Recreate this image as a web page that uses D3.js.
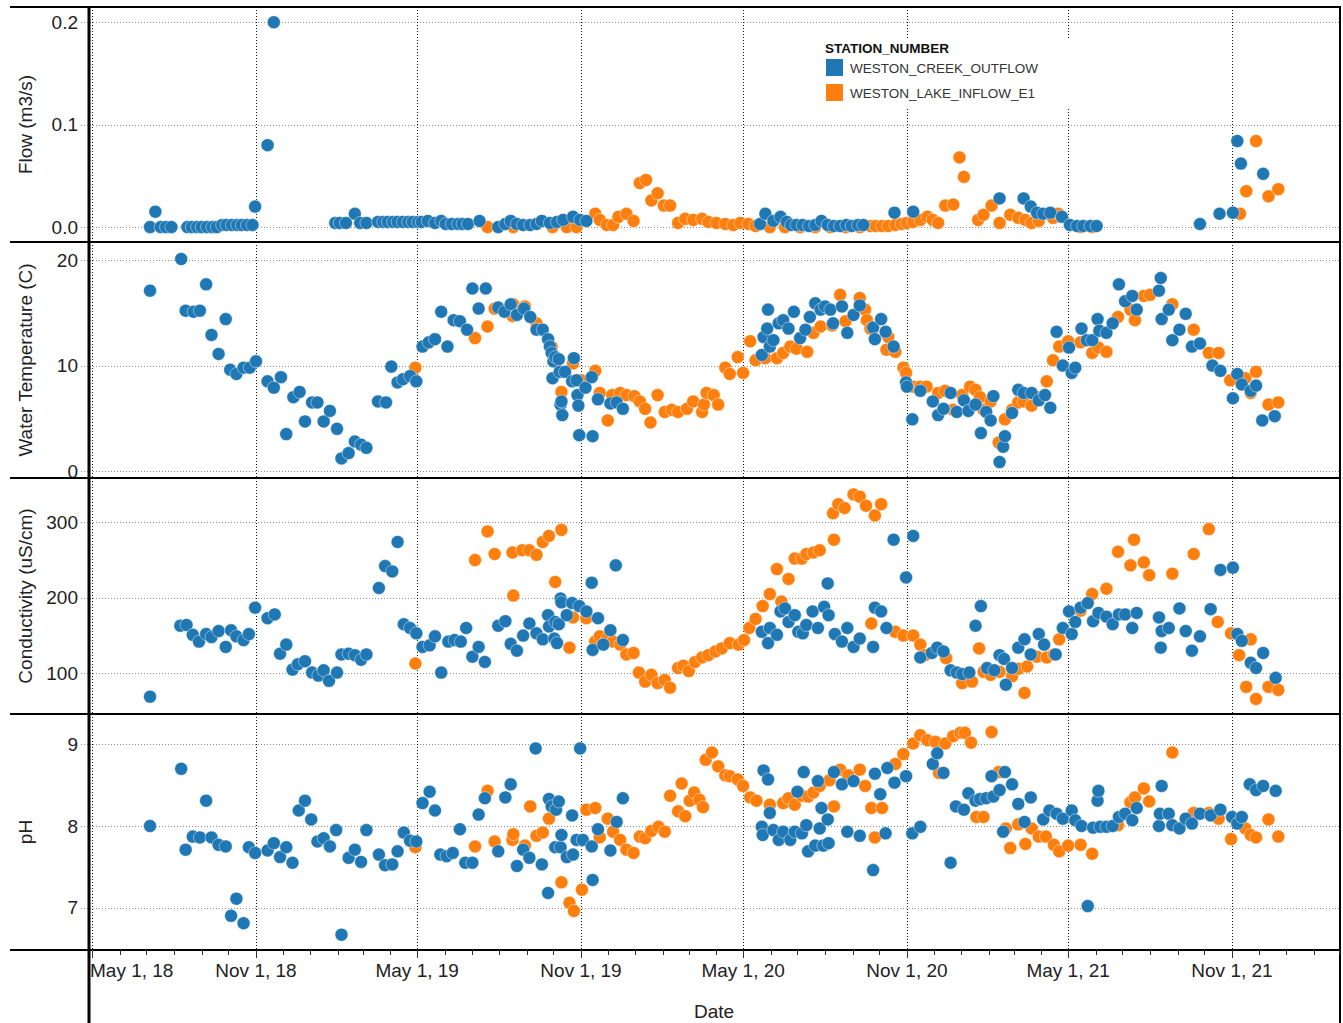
<!DOCTYPE html>
<html>
<head>
<meta charset="utf-8">
<script src="https://cdn.jsdelivr.net/npm/d3@7"></script>
<style>
  body { margin: 0; background: #fff; }
  svg text { font-family: "Liberation Sans", Arial, sans-serif; }
</style>
</head>
<body>
<svg id="chart" width="1343" height="1023"></svg>
<script>
// Stations and their colours
const stations = ["WESTON_CREEK_OUTFLOW", "WESTON_LAKE_INFLOW_E1"];
const stationColors = ["#1f77b4", "#ff7f0e"];
const legendTitle = "STATION_NUMBER";

// Axis ticks
const flowTicks = [0, 0.1, 0.2];
const tempTicks = [0, 10, 20];
const condTicks = [100, 200, 300];
const phTicks = [7, 8, 9];

// Flow (m3/s)
const flowCreek = [
  ["2018-07-05",0.000],["2018-07-11",0.015],["2018-07-17",0.000],["2018-07-23",0.000],["2018-07-29",0.000],
  ["2018-08-16",0.000],["2018-08-21",0.000],["2018-08-27",0.000],["2018-09-01",0.000],["2018-09-07",0.000],
  ["2018-09-13",0.000],["2018-09-18",0.000],["2018-09-24",0.002],["2018-09-29",0.002],["2018-10-05",0.002],
  ["2018-10-11",0.002],["2018-10-16",0.002],["2018-10-22",0.002],["2018-10-28",0.002],["2018-10-31",0.020],
  ["2018-11-14",0.080],["2018-11-21",0.200],
  ["2019-01-29",0.004],["2019-02-03",0.004],["2019-02-10",0.004],["2019-02-20",0.013],["2019-02-26",0.004],
  ["2019-03-05",0.004],["2019-03-18",0.005],["2019-03-24",0.005],["2019-03-29",0.005],["2019-04-04",0.005],
  ["2019-04-09",0.005],["2019-04-15",0.005],["2019-04-21",0.005],["2019-04-26",0.005],["2019-05-02",0.005],
  ["2019-05-06",0.005],["2019-05-13",0.006],["2019-05-21",0.004],["2019-05-28",0.006],["2019-06-02",0.003],
  ["2019-06-09",0.003],["2019-06-16",0.003],["2019-06-21",0.003],["2019-06-27",0.003],["2019-07-10",0.006],
  ["2019-07-31",0.000],["2019-08-08",0.003],["2019-08-14",0.006],["2019-08-21",0.003],["2019-08-28",0.002],
  ["2019-09-05",0.002],["2019-09-12",0.003],["2019-09-18",0.006],["2019-09-27",0.004],["2019-10-05",0.005],
  ["2019-10-12",0.007],["2019-10-23",0.010],["2019-10-31",0.007],["2019-11-07",0.006],
  ["2020-05-20",0.003],["2020-05-26",0.013],["2020-06-04",0.006],["2020-06-12",0.010],["2020-06-19",0.005],
  ["2020-06-24",0.002],["2020-06-30",0.002],["2020-07-07",0.002],["2020-07-14",0.001],["2020-07-21",0.002],
  ["2020-07-28",0.006],["2020-08-04",0.002],["2020-08-11",0.001],["2020-08-18",0.001],["2020-08-25",0.002],
  ["2020-08-31",0.001],["2020-09-07",0.002],["2020-09-13",0.002],["2020-10-18",0.014],["2020-11-08",0.015],
  ["2021-02-13",0.028],["2021-03-12",0.028],["2021-03-20",0.020],["2021-03-27",0.014],["2021-04-03",0.013],
  ["2021-04-11",0.014],["2021-04-24",0.010],["2021-05-03",0.002],["2021-05-11",0.001],["2021-05-18",0.001],
  ["2021-05-26",0.001],["2021-06-02",0.001],["2021-09-26",0.003],["2021-10-18",0.013],["2021-11-02",0.014],
  ["2021-11-07",0.084],["2021-11-11",0.062],["2021-12-06",0.052]
];
const flowLake = [
  ["2019-07-19",0.000],["2019-08-17",0.000],["2019-09-30",0.000],["2019-10-16",0.000],["2019-10-27",0.000],
  ["2019-11-17",0.013],["2019-11-22",0.007],["2019-11-30",0.002],["2019-12-07",0.002],["2019-12-13",0.010],
  ["2019-12-22",0.013],["2019-12-30",0.006],["2020-01-06",0.043],["2020-01-13",0.046],["2020-01-19",0.026],
  ["2020-01-26",0.033],["2020-02-02",0.021],["2020-02-09",0.021],["2020-02-18",0.004],["2020-02-26",0.008],
  ["2020-03-06",0.007],["2020-03-16",0.008],["2020-03-23",0.005],["2020-04-01",0.004],["2020-04-11",0.003],
  ["2020-04-20",0.002],["2020-04-28",0.004],["2020-05-07",0.003],["2020-05-15",0.001],["2020-05-31",0.000],
  ["2020-06-17",0.000],["2020-07-04",0.000],["2020-07-21",0.000],["2020-08-07",0.000],["2020-08-24",0.000],
  ["2020-09-09",0.000],["2020-09-21",0.001],["2020-09-27",0.001],["2020-10-04",0.001],["2020-10-11",0.001],
  ["2020-10-19",0.002],["2020-10-26",0.003],["2020-11-01",0.004],["2020-11-08",0.005],["2020-11-16",0.007],
  ["2020-11-24",0.010],["2020-11-30",0.007],["2020-12-06",0.004],["2020-12-14",0.021],["2020-12-23",0.022],
  ["2020-12-30",0.068],["2021-01-04",0.049],["2021-01-20",0.007],["2021-01-26",0.012],["2021-02-04",0.021],
  ["2021-02-13",0.004],["2021-02-25",0.012],["2021-03-06",0.009],["2021-03-14",0.007],["2021-03-21",0.004],
  ["2021-03-29",0.006],["2021-04-14",0.009],["2021-04-20",0.013],["2021-05-15",0.000],["2021-05-28",0.000],
  ["2021-11-10",0.013],["2021-11-17",0.035],["2021-11-28",0.084],["2021-12-12",0.030],["2021-12-23",0.037]
];

// Water temperature (C)
const tempCreek = [
  ["2018-07-05",17.1],["2018-08-09",20.1],["2018-08-14",15.2],["2018-08-23",15.1],["2018-08-30",15.2],
  ["2018-09-06",17.7],["2018-09-12",12.9],["2018-09-20",11.1],["2018-09-28",14.4],["2018-10-03",9.6],
  ["2018-10-10",9.2],["2018-10-18",9.8],["2018-10-25",9.8],["2018-11-01",10.4],["2018-11-14",8.5],
  ["2018-11-21",7.9],["2018-11-29",8.9],["2018-12-05",3.5],["2018-12-13",7.0],["2018-12-20",7.5],
  ["2018-12-26",4.7],["2019-01-03",6.5],["2019-01-09",6.5],["2019-01-16",4.7],["2019-01-23",5.7],
  ["2019-01-31",4.0],["2019-02-05",1.2],["2019-02-13",1.7],["2019-02-20",2.8],["2019-02-27",2.5],
  ["2019-03-05",2.2],["2019-03-18",6.6],["2019-03-27",6.5],["2019-04-02",9.9],["2019-04-09",8.4],
  ["2019-04-15",8.7],["2019-04-23",9.0],["2019-04-30",8.5],["2019-05-07",11.8],["2019-05-14",12.2],
  ["2019-05-21",12.5],["2019-05-28",15.1],["2019-06-04",11.8],["2019-06-11",14.3],["2019-06-18",14.2],
  ["2019-06-26",13.4],["2019-07-02",17.3],["2019-07-09",15.4],["2019-07-17",17.3],["2019-07-31",15.5],
  ["2019-08-07",15.1],["2019-08-14",15.8],["2019-08-21",14.8],["2019-08-29",15.4],["2019-09-05",14.6],
  ["2019-09-12",13.4],["2019-09-19",13.4],["2019-09-25",12.5],["2019-09-27",11.8],["2019-09-29",11.2],
  ["2019-09-30",8.8],["2019-10-01",10.4],["2019-10-03",10.8],["2019-10-07",10.6],["2019-10-08",9.4],
  ["2019-10-09",6.3],["2019-10-10",6.6],["2019-10-11",5.3],["2019-10-14",9.4],["2019-10-22",8.5],
  ["2019-10-24",10.7],["2019-10-27",8.6],["2019-10-28",7.2],["2019-10-29",6.2],["2019-10-30",3.4],
  ["2019-11-06",7.9],["2019-11-13",8.9],["2019-11-14",3.3],["2019-11-20",6.8],["2019-12-04",6.4],
  ["2019-12-11",6.5],["2019-12-18",5.9],
  ["2020-05-22",11.0],["2020-05-24",12.7],["2020-05-28",13.5],["2020-05-29",15.3],["2020-05-31",11.8],
  ["2020-06-04",12.4],["2020-06-10",14.0],["2020-06-15",14.3],["2020-06-21",13.5],["2020-06-27",15.1],
  ["2020-07-04",12.6],["2020-07-10",13.4],["2020-07-15",14.6],["2020-07-21",15.9],["2020-07-27",15.3],
  ["2020-08-01",15.6],["2020-08-07",15.3],["2020-08-10",14.0],["2020-08-20",15.6],["2020-08-26",13.1],
  ["2020-09-02",14.8],["2020-09-09",15.7],["2020-09-24",13.6],["2020-09-26",12.5],["2020-10-03",14.4],
  ["2020-10-08",13.2],["2020-10-17",11.8],["2020-10-31",8.4],["2020-11-01",8.0],["2020-11-07",4.9],
  ["2020-11-16",7.6],["2020-11-30",6.6],["2020-12-06",5.3],["2020-12-12",5.9],["2020-12-20",7.4],
  ["2020-12-27",5.6],["2021-01-04",6.7],["2021-01-09",5.7],["2021-01-17",6.3],["2021-01-23",3.6],
  ["2021-01-29",5.6],["2021-02-03",4.8],["2021-02-06",7.1],["2021-02-13",0.85],["2021-02-17",2.3],
  ["2021-02-19",3.3],["2021-02-27",5.5],["2021-03-06",7.7],["2021-03-12",7.4],["2021-03-21",7.4],
  ["2021-03-29",6.7],["2021-04-05",7.2],["2021-04-11",6.0],["2021-04-18",13.2],["2021-04-25",10.0],
  ["2021-05-02",11.7],["2021-05-05",9.3],["2021-05-09",9.8],["2021-05-16",13.5],["2021-05-22",12.4],
  ["2021-05-28",12.4],["2021-06-03",14.4],["2021-06-05",13.3],["2021-06-13",13.1],["2021-06-20",14.0],
  ["2021-06-27",17.7],["2021-07-04",16.1],["2021-07-12",16.6],["2021-07-17",15.3],["2021-08-11",17.1],
  ["2021-08-13",18.3],["2021-08-14",14.4],["2021-08-22",15.3],["2021-08-26",12.4],["2021-09-03",13.4],
  ["2021-09-10",14.9],["2021-09-17",11.8],["2021-09-26",12.1],["2021-10-10",10.0],["2021-10-19",9.5],
  ["2021-11-02",6.9],["2021-11-07",9.2],["2021-11-12",8.2],["2021-11-22",7.6],["2021-11-28",8.1],
  ["2021-12-05",4.8],["2021-12-19",5.2]
];
const tempLake = [
  ["2019-04-29",9.8],["2019-07-05",12.6],["2019-07-19",13.7],["2019-07-27",15.4],["2019-08-16",14.7],
  ["2019-08-17",15.8],["2019-08-30",15.6],["2019-09-12",14.0],["2019-09-29",11.8],["2019-10-10",7.5],
  ["2019-10-23",10.2],["2019-11-01",8.6],["2019-11-17",9.5],["2019-11-22",7.4],["2019-12-01",4.8],
  ["2019-12-06",7.2],["2019-12-15",7.4],["2019-12-22",7.2],["2019-12-31",7.1],["2020-01-06",6.6],
  ["2020-01-12",5.9],["2020-01-18",4.6],["2020-01-26",7.2],["2020-02-03",5.6],["2020-02-11",5.8],
  ["2020-02-18",5.6],["2020-02-28",5.9],["2020-03-06",6.6],["2020-03-16",5.6],["2020-03-18",6.3],
  ["2020-03-21",7.4],["2020-03-29",7.2],["2020-04-03",6.3],["2020-04-11",9.8],["2020-04-16",9.2],
  ["2020-04-25",10.8],["2020-05-01",9.3],["2020-05-09",12.3],["2020-05-15",10.5],["2020-05-26",10.7],
  ["2020-06-08",10.7],["2020-06-15",11.2],["2020-06-23",11.8],["2020-06-30",11.6],["2020-07-12",11.3],
  ["2020-07-19",13.1],["2020-07-27",13.7],["2020-08-09",13.8],["2020-08-18",16.7],["2020-08-24",14.2],
  ["2020-09-09",16.4],["2020-09-15",15.3],["2020-09-17",14.3],["2020-09-21",13.5],["2020-10-09",11.5],
  ["2020-10-11",12.7],["2020-10-19",11.3],["2020-10-28",9.8],["2020-10-31",9.3],["2020-11-08",8.0],
  ["2020-11-16",8.0],["2020-11-23",8.0],["2020-12-06",7.4],["2020-12-14",7.6],["2020-12-23",5.8],
  ["2021-01-02",7.2],["2021-01-11",8.0],["2021-01-17",7.7],["2021-01-22",7.0],["2021-01-26",5.8],
  ["2021-02-03",6.6],["2021-02-12",2.7],["2021-02-19",4.9],["2021-02-27",5.8],["2021-03-06",6.5],
  ["2021-03-12",6.6],["2021-03-21",6.2],["2021-03-29",7.0],["2021-04-07",8.5],["2021-04-14",10.5],
  ["2021-04-21",11.8],["2021-05-01",12.3],["2021-05-15",12.2],["2021-05-28",11.2],["2021-06-04",11.7],
  ["2021-06-13",11.3],["2021-06-26",14.6],["2021-07-10",15.3],["2021-07-15",14.3],["2021-07-25",16.6],
  ["2021-08-01",16.7],["2021-08-26",15.8],["2021-09-19",13.4],["2021-10-06",11.2],["2021-10-17",11.2],
  ["2021-10-30",8.6],["2021-11-16",8.8],["2021-11-22",7.4],["2021-11-28",9.4],["2021-12-12",6.3],
  ["2021-12-23",6.5]
];

// Conductivity (uS/cm)
const condCreek = [
  ["2018-07-05",69],["2018-08-08",163],["2018-08-15",164],["2018-08-22",151],["2018-08-29",142],
  ["2018-09-06",152],["2018-09-12",148],["2018-09-20",156],["2018-09-28",135],["2018-10-04",157],
  ["2018-10-10",149],["2018-10-18",144],["2018-10-24",152],["2018-10-31",187],["2018-11-14",173],
  ["2018-11-22",178],["2018-11-28",126],["2018-12-05",138],["2018-12-12",105],["2018-12-18",112],
  ["2018-12-26",116],["2019-01-03",101],["2019-01-10",97],["2019-01-16",104],["2019-01-22",90],
  ["2019-01-31",101],["2019-02-05",125],["2019-02-13",126],["2019-02-20",124],["2019-02-27",118],
  ["2019-03-05",125],["2019-03-19",213],["2019-03-26",242],["2019-04-03",235],["2019-04-09",274],
  ["2019-04-16",165],["2019-04-23",160],["2019-04-30",153],["2019-05-07",135],["2019-05-15",137],
  ["2019-05-21",149],["2019-05-28",101],["2019-06-05",142],["2019-06-12",144],["2019-06-19",142],
  ["2019-06-25",160],["2019-07-02",122],["2019-07-09",135],["2019-07-16",115],["2019-07-31",163],
  ["2019-08-08",169],["2019-08-14",139],["2019-08-21",130],["2019-08-28",150],["2019-09-04",166],
  ["2019-09-12",153],["2019-09-19",145],["2019-09-25",177],["2019-09-26",162],["2019-10-02",146],
  ["2019-10-03",168],["2019-10-05",140],["2019-10-07",165],["2019-10-09",199],["2019-10-10",194],
  ["2019-10-16",177],["2019-10-22",193],["2019-10-30",189],["2019-11-07",182],["2019-11-13",220],
  ["2019-11-14",131],["2019-11-20",173],["2019-11-26",138],["2019-12-04",157],["2019-12-10",243],
  ["2019-12-18",144],
  ["2020-05-22",155],["2020-05-29",140],["2020-05-31",160],["2020-06-08",151],["2020-06-12",182],
  ["2020-06-17",186],["2020-06-21",168],["2020-06-28",177],["2020-07-02",155],["2020-07-07",153],
  ["2020-07-11",164],["2020-07-18",182],["2020-07-24",160],["2020-07-31",188],["2020-08-04",219],
  ["2020-08-05",177],["2020-08-12",152],["2020-08-20",142],["2020-08-26",160],["2020-09-02",135],
  ["2020-09-09",146],["2020-09-24",135],["2020-09-26",187],["2020-10-03",182],["2020-10-09",160],
  ["2020-10-17",277],["2020-10-31",227],["2020-11-08",282],["2020-11-16",121],["2020-11-29",127],
  ["2020-12-05",134],["2020-12-12",129],["2020-12-20",104],["2020-12-27",101],["2021-01-02",99],
  ["2021-01-10",101],["2021-01-17",163],["2021-01-23",189],["2021-01-30",107],["2021-02-07",104],
  ["2021-02-13",124],["2021-02-18",119],["2021-02-20",85],["2021-02-27",107],["2021-03-06",134],
  ["2021-03-13",145],["2021-03-20",125],["2021-03-29",152],["2021-04-04",138],["2021-04-17",125],
  ["2021-04-25",160],["2021-05-02",182],["2021-05-05",152],["2021-05-09",168],["2021-05-15",187],
  ["2021-05-23",193],["2021-05-29",169],["2021-06-04",180],["2021-06-13",175],["2021-06-20",165],
  ["2021-06-27",178],["2021-07-04",178],["2021-07-12",160],["2021-07-17",180],["2021-08-11",174],
  ["2021-08-13",134],["2021-08-14",156],["2021-08-22",160],["2021-09-03",186],["2021-09-10",156],
  ["2021-09-17",130],["2021-09-26",149],["2021-10-08",185],["2021-10-19",237],["2021-11-02",240],
  ["2021-11-07",152],["2021-11-12",143],["2021-11-22",114],["2021-11-28",107],["2021-12-06",127],
  ["2021-12-20",94]
];
const condLake = [
  ["2019-04-29",113],["2019-07-05",250],["2019-07-19",288],["2019-07-27",258],["2019-08-16",260],
  ["2019-08-17",203],["2019-08-27",263],["2019-09-04",263],["2019-09-12",257],["2019-09-19",274],
  ["2019-09-26",282],["2019-10-03",221],["2019-10-10",290],["2019-10-19",134],["2019-10-23",174],
  ["2019-11-07",173],["2019-11-17",142],["2019-11-22",149],["2019-11-30",145],["2019-12-07",142],
  ["2019-12-15",138],["2019-12-22",125],["2019-12-30",127],["2020-01-05",101],["2020-01-12",89],
  ["2020-01-19",98],["2020-01-26",87],["2020-02-03",91],["2020-02-09",81],["2020-02-18",107],
  ["2020-02-24",110],["2020-03-01",103],["2020-03-08",115],["2020-03-16",121],["2020-03-23",124],
  ["2020-03-31",129],["2020-04-07",133],["2020-04-16",140],["2020-04-26",138],["2020-05-02",144],
  ["2020-05-08",160],["2020-05-15",172],["2020-05-23",189],["2020-05-31",205],["2020-06-08",238],
  ["2020-06-13",195],["2020-06-21",225],["2020-06-28",252],["2020-07-06",252],["2020-07-11",258],
  ["2020-07-19",260],["2020-07-26",263],["2020-08-10",312],["2020-08-11",277],["2020-08-16",324],
  ["2020-08-23",319],["2020-09-02",337],["2020-09-09",334],["2020-09-16",322],["2020-09-22",166],
  ["2020-09-26",309],["2020-10-03",324],["2020-10-19",155],["2020-10-28",150],["2020-11-08",150],
  ["2020-11-16",138],["2020-11-21",124],["2020-12-15",120],["2021-01-02",87],["2021-01-13",89],
  ["2021-01-21",133],["2021-01-26",102],["2021-02-03",98],["2021-02-13",102],["2021-02-27",96],
  ["2021-03-06",106],["2021-03-13",74],["2021-03-16",109],["2021-03-27",122],["2021-04-07",121],
  ["2021-04-15",125],["2021-04-21",145],["2021-05-15",183],["2021-05-28",205],["2021-06-13",212],
  ["2021-06-26",261],["2021-07-10",243],["2021-07-14",277],["2021-07-25",247],["2021-07-31",230],
  ["2021-08-26",232],["2021-09-19",258],["2021-10-06",291],["2021-10-16",168],["2021-10-31",153],
  ["2021-11-09",124],["2021-11-17",82],["2021-11-22",145],["2021-11-28",66],["2021-12-12",82],
  ["2021-12-23",78]
];

// pH
const phCreek = [
  ["2018-07-05",8.00],["2018-08-09",8.70],["2018-08-14",7.71],["2018-08-22",7.87],["2018-08-30",7.86],
  ["2018-09-06",8.31],["2018-09-12",7.86],["2018-09-20",7.77],["2018-09-28",7.75],["2018-10-04",6.90],
  ["2018-10-10",7.11],["2018-10-18",6.81],["2018-10-24",7.74],["2018-10-31",7.67],["2018-11-14",7.70],
  ["2018-11-21",7.79],["2018-11-28",7.62],["2018-12-05",7.74],["2018-12-12",7.55],["2018-12-19",8.19],
  ["2018-12-26",8.31],["2019-01-02",8.08],["2019-01-09",7.81],["2019-01-16",7.85],["2019-01-23",7.75],
  ["2019-01-30",7.95],["2019-02-05",6.67],["2019-02-13",7.61],["2019-02-20",7.71],["2019-02-27",7.56],
  ["2019-03-05",7.95],["2019-03-19",7.65],["2019-03-26",7.52],["2019-04-03",7.53],["2019-04-09",7.69],
  ["2019-04-16",7.92],["2019-04-23",7.82],["2019-04-30",7.81],["2019-05-07",8.28],["2019-05-15",8.42],
  ["2019-05-21",8.19],["2019-05-27",7.65],["2019-06-03",7.63],["2019-06-10",7.67],["2019-06-18",7.96],
  ["2019-06-24",7.55],["2019-07-02",7.55],["2019-07-09",8.14],["2019-07-16",8.34],["2019-07-31",7.69],
  ["2019-08-08",8.35],["2019-08-14",8.51],["2019-08-21",7.51],["2019-08-28",7.71],["2019-09-04",7.61],
  ["2019-09-11",8.95],["2019-09-18",7.53],["2019-09-25",7.18],["2019-09-26",8.33],["2019-09-29",8.24],
  ["2019-10-03",7.74],["2019-10-04",8.20],["2019-10-07",8.30],["2019-10-09",7.74],["2019-10-10",7.89],
  ["2019-10-16",7.62],["2019-10-22",8.13],["2019-10-23",7.65],["2019-10-27",7.83],["2019-10-31",8.95],
  ["2019-11-03",7.83],["2019-11-13",7.75],["2019-11-14",7.34],["2019-11-20",7.96],["2019-12-04",7.70],
  ["2019-12-11",8.05],["2019-12-18",8.34],
  ["2020-05-22",7.99],["2020-05-23",7.89],["2020-05-24",8.68],["2020-05-29",8.57],["2020-05-31",8.16],
  ["2020-06-04",7.95],["2020-06-10",7.83],["2020-06-15",7.93],["2020-06-23",7.83],["2020-06-28",7.93],
  ["2020-07-01",8.42],["2020-07-06",7.91],["2020-07-08",8.66],["2020-07-11",8.01],["2020-07-13",7.69],
  ["2020-07-21",7.76],["2020-07-24",8.55],["2020-07-26",7.97],["2020-07-28",8.22],["2020-07-30",7.76],
  ["2020-08-04",8.08],["2020-08-05",7.79],["2020-08-11",8.66],["2020-08-20",8.51],["2020-08-26",7.93],
  ["2020-09-02",8.55],["2020-09-09",7.88],["2020-09-24",7.46],["2020-09-26",8.64],["2020-10-02",8.39],
  ["2020-10-08",7.91],["2020-10-10",8.71],["2020-10-18",8.53],["2020-10-31",8.61],["2020-11-07",7.91],
  ["2020-11-16",7.99],["2020-11-30",8.76],["2020-12-05",8.89],["2020-12-12",8.65],["2020-12-20",7.55],
  ["2020-12-26",8.24],["2021-01-04",8.20],["2021-01-09",8.40],["2021-01-17",8.31],["2021-01-22",8.33],
  ["2021-01-29",8.34],["2021-02-04",8.61],["2021-02-06",8.36],["2021-02-13",8.44],["2021-02-17",7.93],
  ["2021-02-19",8.66],["2021-02-27",8.51],["2021-03-06",8.27],["2021-03-13",8.05],["2021-03-20",8.35],
  ["2021-04-03",8.08],["2021-04-10",8.19],["2021-04-18",8.15],["2021-04-25",8.09],["2021-05-05",8.19],
  ["2021-05-09",8.07],["2021-05-16",8.00],["2021-05-23",7.02],["2021-05-29",7.98],["2021-06-03",8.31],
  ["2021-06-04",8.43],["2021-06-06",7.99],["2021-06-13",7.99],["2021-06-20",8.00],["2021-06-27",8.11],
  ["2021-07-04",8.15],["2021-07-12",8.07],["2021-07-17",8.22],["2021-08-11",8.00],["2021-08-12",8.15],
  ["2021-08-14",8.49],["2021-08-22",8.15],["2021-08-26",8.01],["2021-09-03",7.97],["2021-09-10",8.09],
  ["2021-09-17",8.03],["2021-09-26",8.15],["2021-10-08",8.13],["2021-10-19",8.20],["2021-11-01",8.11],
  ["2021-11-07",8.03],["2021-11-12",8.11],["2021-11-21",8.51],["2021-11-28",8.44],["2021-12-06",8.49],
  ["2021-12-20",8.43]
];
const phLake = [
  ["2019-04-29",7.74],["2019-07-05",7.75],["2019-07-19",8.43],["2019-07-27",7.81],["2019-08-16",7.83],
  ["2019-08-17",7.90],["2019-08-30",7.76],["2019-09-05",8.24],["2019-09-12",7.88],["2019-09-19",7.92],
  ["2019-09-26",8.09],["2019-10-10",7.31],["2019-10-19",7.06],["2019-10-24",6.96],["2019-11-02",7.22],
  ["2019-11-07",8.20],["2019-11-17",8.22],["2019-11-22",7.86],["2019-12-01",8.09],["2019-12-07",7.93],
  ["2019-12-15",7.83],["2019-12-22",7.71],["2019-12-30",7.67],["2020-01-06",7.87],["2020-01-12",7.85],
  ["2020-01-19",7.94],["2020-01-27",7.99],["2020-02-03",7.93],["2020-02-09",8.37],["2020-02-18",8.18],
  ["2020-02-22",8.52],["2020-02-26",8.12],["2020-03-02",8.31],["2020-03-07",8.41],["2020-03-13",8.32],
  ["2020-03-17",8.23],["2020-03-20",8.81],["2020-03-27",8.90],["2020-04-03",8.73],["2020-04-11",8.62],
  ["2020-04-16",8.61],["2020-04-25",8.57],["2020-05-01",8.49],["2020-05-09",8.35],["2020-05-16",8.31],
  ["2020-05-31",8.26],["2020-06-15",8.28],["2020-06-21",8.34],["2020-06-28",8.26],["2020-07-06",8.37],
  ["2020-07-13",8.36],["2020-07-19",8.41],["2020-07-26",8.49],["2020-08-06",8.56],["2020-08-11",8.24],
  ["2020-08-18",8.69],["2020-08-27",8.62],["2020-09-09",8.69],["2020-09-15",8.49],["2020-09-22",8.22],
  ["2020-09-26",7.86],["2020-10-04",8.22],["2020-10-19",8.76],["2020-10-28",8.88],["2020-11-08",9.01],
  ["2020-11-16",9.11],["2020-11-24",9.05],["2020-12-03",9.03],["2020-12-07",8.65],["2020-12-14",9.01],
  ["2020-12-23",9.10],["2020-12-31",9.14],["2021-01-05",9.14],["2021-01-12",9.02],["2021-01-18",8.11],
  ["2021-01-26",8.11],["2021-02-04",9.15],["2021-02-12",8.66],["2021-02-20",7.97],["2021-02-25",7.73],
  ["2021-03-06",8.02],["2021-03-14",7.78],["2021-03-21",7.97],["2021-03-29",7.87],["2021-04-06",7.87],
  ["2021-04-15",7.77],["2021-04-21",7.69],["2021-05-01",7.76],["2021-05-15",7.77],["2021-05-28",7.66],
  ["2021-06-26",8.01],["2021-07-10",8.29],["2021-07-15",8.35],["2021-07-25",8.46],["2021-07-31",8.30],
  ["2021-08-26",8.90],["2021-09-19",8.16],["2021-10-06",8.16],["2021-10-17",8.09],["2021-10-31",7.84],
  ["2021-11-16",7.97],["2021-11-22",7.89],["2021-11-28",7.86],["2021-12-12",8.08],["2021-12-23",7.87]
];

// ---- layout ----
const W = 1343, H = 1023;
const plotLeft = 89, plotRight = 1340, frameLeft = 10;
const axisY = 950;
const crisp = v => Math.round(v) + 0.5;

const svg = d3.select("#chart");
const parse = d3.utcParse("%Y-%m-%d");

// Time scale: Nov 1 anchors, then widened to the full plot width
const xBase = d3.scaleUtc()
  .domain([Date.UTC(2018, 10, 1), Date.UTC(2021, 10, 1)])
  .range([256, 1232]);
const x = d3.scaleUtc()
  .domain([xBase.invert(plotLeft), xBase.invert(plotRight)])
  .range([plotLeft, plotRight]);

const panels = [
  { label: "Flow (m3/s)", top: 7, bottom: 242, domain: [-0.0146, 0.2149],
    ticks: flowTicks, fmt: d3.format(".1f"), series: [flowCreek, flowLake] },
  { label: "Water Temperature (C)", top: 242, bottom: 478, domain: [-0.66, 21.71],
    ticks: tempTicks, fmt: d3.format("d"), series: [tempCreek, tempLake] },
  { label: "Conductivity (uS/cm)", top: 478, bottom: 714, domain: [46.1, 358.7],
    ticks: condTicks, fmt: d3.format("d"), series: [condCreek, condLake] },
  { label: "pH", top: 714, bottom: 950, domain: [6.482, 9.371],
    ticks: phTicks, fmt: d3.format("d"), series: [phCreek, phLake] }
];

const allMonths = d3.utcMonth.range(x.domain()[0], x.domain()[1]);
const majorDates = allMonths.filter(d => d.getUTCMonth() % 6 === 4);
const fmtDate = d3.utcFormat("%b %-d, %y");

const defs = svg.append("defs");
const gGrid = svg.append("g");
const gPoints = svg.append("g");
const gFrame = svg.append("g");

panels.forEach((p, i) => {
  const y = d3.scaleLinear().domain(p.domain).range([p.bottom, p.top]);

  // horizontal grid + tick labels
  p.ticks.forEach(t => {
    gGrid.append("line")
      .attr("x1", 81).attr("x2", plotRight)
      .attr("y1", crisp(y(t))).attr("y2", crisp(y(t)))
      .attr("stroke", "#8c8c8c").attr("stroke-width", 1)
      .attr("stroke-dasharray", "1,2");
    gGrid.append("text")
      .attr("x", 78).attr("y", y(t))
      .attr("dy", "0.35em")
      .attr("text-anchor", "end")
      .attr("font-size", 19)
      .attr("fill", "#222")
      .text(p.fmt(t));
  });

  // vertical grid at half-year marks
  majorDates.forEach(d => {
    gGrid.append("line")
      .attr("x1", crisp(x(d))).attr("x2", crisp(x(d)))
      .attr("y1", p.top).attr("y2", p.bottom)
      .attr("stroke", "#111").attr("stroke-width", 1)
      .attr("stroke-dasharray", "1,2");
  });

  // y title
  const cy = (p.top + p.bottom) / 2;
  gGrid.append("text")
    .attr("transform", `translate(32,${cy}) rotate(-90)`)
    .attr("text-anchor", "middle")
    .attr("font-size", 19)
    .attr("fill", "#222")
    .text(p.label);

  // points
  const clipId = "clip" + i;
  defs.append("clipPath").attr("id", clipId)
    .append("rect")
    .attr("x", plotLeft).attr("y", p.top)
    .attr("width", plotRight - plotLeft).attr("height", p.bottom - p.top);

  const g = gPoints.append("g").attr("clip-path", `url(#${clipId})`);
  // lake inflow first, creek outflow drawn above it
  [1, 0].forEach(si => {
    g.selectAll(null)
      .data(p.series[si])
      .enter().append("circle")
      .attr("cx", d => x(parse(d[0])))
      .attr("cy", d => y(d[1]))
      .attr("r", 6.5)
      .attr("fill", stationColors[si])
      .attr("stroke", "#fff")
      .attr("stroke-opacity", 0.55)
      .attr("stroke-width", 0.8);
  });
});

// panel frame lines
[7, 242, 478, 714, 950].forEach(yy => {
  gFrame.append("line")
    .attr("x1", frameLeft).attr("x2", plotRight + 1)
    .attr("y1", yy).attr("y2", yy)
    .attr("stroke", "#000").attr("stroke-width", 2);
});
gFrame.append("line")
  .attr("x1", plotLeft).attr("x2", plotLeft)
  .attr("y1", 6).attr("y2", H)
  .attr("stroke", "#000").attr("stroke-width", 3);
gFrame.append("line")
  .attr("x1", plotRight).attr("x2", plotRight)
  .attr("y1", 6).attr("y2", H)
  .attr("stroke", "#000").attr("stroke-width", 2);

// bottom time axis
allMonths.forEach(d => {
  const major = d.getUTCMonth() % 6 === 4;
  const xx = crisp(x(d));
  if (xx <= plotLeft + 2) return;
  gFrame.append("line")
    .attr("x1", xx).attr("x2", xx)
    .attr("y1", axisY).attr("y2", axisY + (major ? 8 : 5))
    .attr("stroke", "#333").attr("stroke-width", 1);
});
majorDates.forEach(d => {
  const t = gFrame.append("text")
    .attr("x", x(d)).attr("y", 977)
    .attr("text-anchor", "middle")
    .attr("font-size", 19)
    .attr("fill", "#222")
    .text(fmtDate(d));
  const w = t.node().getComputedTextLength();
  if (x(d) - w / 2 < plotLeft) {
    t.attr("x", plotLeft + 1).attr("text-anchor", "start");
  }
});
gFrame.append("text")
  .attr("x", 714).attr("y", 1018)
  .attr("text-anchor", "middle")
  .attr("font-size", 19)
  .attr("fill", "#222")
  .text("Date");

// legend
const lg = svg.append("g");
lg.append("rect")
  .attr("x", 815).attr("y", 38).attr("width", 257).attr("height", 69)
  .attr("fill", "#fff");
lg.append("text")
  .attr("x", 825).attr("y", 53)
  .attr("font-size", 13.5).attr("font-weight", "bold")
  .attr("fill", "#111")
  .text(legendTitle);
stations.forEach((s, i) => {
  const yy = 59 + i * 25;
  lg.append("rect")
    .attr("x", 826).attr("y", yy).attr("width", 17).attr("height", 17)
    .attr("fill", stationColors[i]);
  lg.append("text")
    .attr("x", 850).attr("y", yy + 14)
    .attr("font-size", 13.5)
    .attr("fill", "#333")
    .text(s);
});
</script>
</body>
</html>
